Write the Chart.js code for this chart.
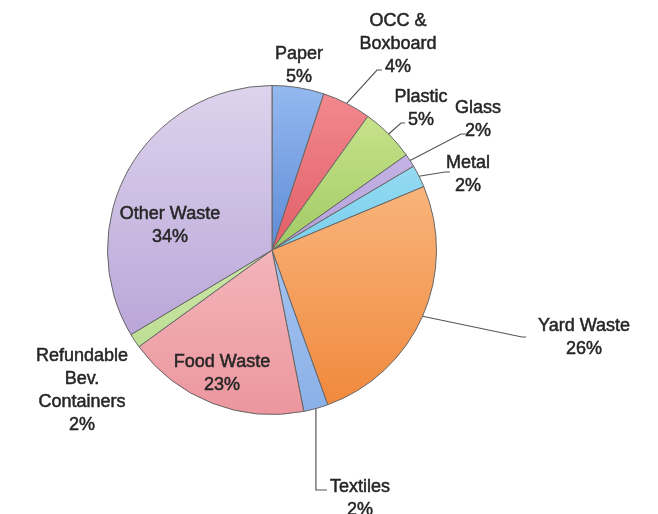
<!DOCTYPE html>
<html>
<head>
<meta charset="utf-8">
<script src="https://cdn.jsdelivr.net/npm/chart.js@4.4.1/dist/chart.umd.min.js"></script>
<style>
  html, body { margin: 0; padding: 0; background: #fff; }
  #wrap { width: 658px; height: 514px; }
</style>
</head>
<body>
<div id="wrap"><canvas id="wasteChart" width="658" height="514"></canvas></div>
<script>
// slice sizes; the printed percentages are kept apart
const categories = ['Paper', 'OCC & Boxboard', 'Plastic', 'Glass', 'Metal', 'Yard Waste', 'Textiles', 'Food Waste', 'Refundable Bev. Containers', 'Other Waste'];
const shares = [5.1, 4.8, 5.3, 1.3, 2.2, 25.8, 2.4, 18.1, 1.4, 33.6];
const pctLabels = ['5%', '4%', '5%', '2%', '2%', '26%', '2%', '23%', '2%', '34%'];
const nameLines = [['Paper'], ['OCC &', 'Boxboard'], ['Plastic'], ['Glass'], ['Metal'], ['Yard Waste'], ['Textiles'], ['Food Waste'], ['Refundable', 'Bev.', 'Containers'], ['Other Waste']];

// colours: tone at the top of the pie and tone at the bottom
const topColors = ['#94b9ef', '#f28b90', '#cfe794', '#cfc0ea', '#b0e4f6', '#fcc898', '#c0d6f5', '#fad4d6', '#e4f2cc', '#ded3ed'];
const bottomColors = ['#2a5ec0', '#d2323d', '#72ae32', '#9a80cc', '#42bbe4', '#f0873a', '#8ab0e8', '#ec969e', '#b3d985', '#ae98d2'];

// where each label sits (text centre x, first line y) and optional leader bend
const labelLayout = [
  { x: 299, y: 54 },
  { x: 398, y: 21, bend: [377, 70], end: [382, 70] },
  { x: 421, y: 97, bend: [401, 123], end: [405, 123] },
  { x: 478, y: 108, bend: [461, 134], end: [466, 134] },
  { x: 468, y: 163, bend: [445, 172], end: [450, 172] },
  { x: 584, y: 326, bend: [522, 337], end: [526, 337] },
  { x: 360, y: 487, bend: [null, 490], end: [327, 490] },
  { x: 222, y: 362 },
  { x: 82, y: 356 },
  { x: 170, y: 214 }
];
const lineGap = 23;

function sliceFill(ctx) {
  const i = ctx.dataIndex;
  const chart = ctx.chart;
  const a = chart.chartArea;
  if (!a) return bottomColors[i];
  const g = chart.ctx.createLinearGradient(0, a.top, 0, a.bottom);
  g.addColorStop(0, topColors[i]);
  g.addColorStop(1, bottomColors[i]);
  return g;
}

const labelPlugin = {
  id: 'wasteLabels',
  afterDatasetsDraw(chart) {
    const ctx = chart.ctx;
    const meta = chart.getDatasetMeta(0);
    ctx.save();
    meta.data.forEach((arc, i) => {
      const lay = labelLayout[i];
      const p = arc.getProps(['x', 'y', 'startAngle', 'endAngle', 'outerRadius'], true);
      if (lay.bend) {
        const mid = (p.startAngle + p.endAngle) / 2;
        const px = p.x + Math.cos(mid) * p.outerRadius;
        const py = p.y + Math.sin(mid) * p.outerRadius;
        const bx = lay.bend[0] === null ? px : lay.bend[0];
        ctx.beginPath();
        ctx.moveTo(px, py);
        ctx.lineTo(bx, lay.bend[1]);
        ctx.lineTo(lay.end[0], lay.end[1]);
        ctx.strokeStyle = '#555';
        ctx.lineWidth = 1.2;
        ctx.stroke();
      }
      const lines = nameLines[i].concat([pctLabels[i]]);
      ctx.font = '18px "Liberation Sans", Arial, sans-serif';
      ctx.fillStyle = '#262626';
      ctx.strokeStyle = '#262626';
      ctx.lineWidth = 0.5;
      ctx.textAlign = 'center';
      ctx.textBaseline = 'middle';
      lines.forEach((t, k) => {
        ctx.fillText(t, lay.x, lay.y + k * lineGap);
        ctx.strokeText(t, lay.x, lay.y + k * lineGap);
      });
    });
    ctx.restore();
  }
};

new Chart(document.getElementById('wasteChart'), {
  type: 'pie',
  data: {
    labels: categories,
    datasets: [{
      data: shares,
      backgroundColor: sliceFill,
      borderColor: '#666',
      borderWidth: 1
    }]
  },
  options: {
    responsive: false,
    animation: false,
    layout: { padding: { left: 107, right: 221, top: 85, bottom: 99 } },
    plugins: {
      legend: { display: false },
      tooltip: { enabled: false }
    }
  },
  plugins: [labelPlugin]
});
</script>
</body>
</html>
